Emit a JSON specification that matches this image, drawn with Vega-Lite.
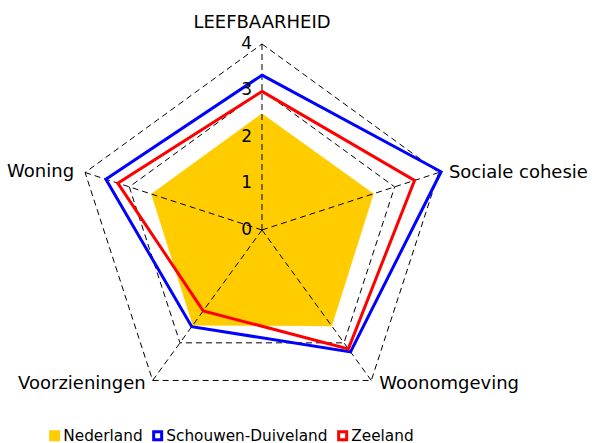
{
  "$schema": "https://vega.github.io/schema/vega-lite/v6.json",
  "width": 592,
  "height": 443,
  "autosize": {"type": "none"},
  "padding": 0,
  "config": {
    "view": {"stroke": null},
    "font": "DejaVu Sans",
    "legend": {
      "orient": "none",
      "legendX": 47,
      "legendY": 428,
      "direction": "horizontal",
      "labelFont": "DejaVu Sans",
      "labelFontSize": 15.3,
      "labelColor": "#000000",
      "labelLimit": 400,
      "symbolType": "square",
      "symbolSize": 64,
      "symbolStrokeWidth": 3,
      "labelOffset": 1,
      "columnPadding": 4
    }
  },
  "datasets": {
    "series": [
      {"series": "Nederland", "aspect": "LEEFBAARHEID", "value": 2.5},
      {"series": "Nederland", "aspect": "Sociale cohesie", "value": 2.52},
      {"series": "Nederland", "aspect": "Woonomgeving", "value": 2.55},
      {"series": "Nederland", "aspect": "Voorzieningen", "value": 2.53},
      {"series": "Nederland", "aspect": "Woning", "value": 2.5},
      {"series": "Schouwen-Duiveland", "aspect": "LEEFBAARHEID", "value": 3.33},
      {"series": "Schouwen-Duiveland", "aspect": "Sociale cohesie", "value": 4.05},
      {"series": "Schouwen-Duiveland", "aspect": "Woonomgeving", "value": 3.24},
      {"series": "Schouwen-Duiveland", "aspect": "Voorzieningen", "value": 2.57},
      {"series": "Schouwen-Duiveland", "aspect": "Woning", "value": 3.53},
      {"series": "Zeeland", "aspect": "LEEFBAARHEID", "value": 2.98},
      {"series": "Zeeland", "aspect": "Sociale cohesie", "value": 3.45},
      {"series": "Zeeland", "aspect": "Woonomgeving", "value": 3.16},
      {"series": "Zeeland", "aspect": "Voorzieningen", "value": 2.15},
      {"series": "Zeeland", "aspect": "Woning", "value": 3.26}
    ],
    "grid": [
      {"level": 1, "aspect": "LEEFBAARHEID"},
      {"level": 1, "aspect": "Sociale cohesie"},
      {"level": 1, "aspect": "Woonomgeving"},
      {"level": 1, "aspect": "Voorzieningen"},
      {"level": 1, "aspect": "Woning"},
      {"level": 2, "aspect": "LEEFBAARHEID"},
      {"level": 2, "aspect": "Sociale cohesie"},
      {"level": 2, "aspect": "Woonomgeving"},
      {"level": 2, "aspect": "Voorzieningen"},
      {"level": 2, "aspect": "Woning"},
      {"level": 3, "aspect": "LEEFBAARHEID"},
      {"level": 3, "aspect": "Sociale cohesie"},
      {"level": 3, "aspect": "Woonomgeving"},
      {"level": 3, "aspect": "Voorzieningen"},
      {"level": 3, "aspect": "Woning"},
      {"level": 4, "aspect": "LEEFBAARHEID"},
      {"level": 4, "aspect": "Sociale cohesie"},
      {"level": 4, "aspect": "Woonomgeving"},
      {"level": 4, "aspect": "Voorzieningen"},
      {"level": 4, "aspect": "Woning"}
    ],
    "ticks": [
      {"label": "0", "v": 0},
      {"label": "1", "v": 1},
      {"label": "2", "v": 2},
      {"label": "3", "v": 3},
      {"label": "4", "v": 4}
    ]
  },
  "layer": [
    {
      "data": {"name": "grid"},
      "transform": [
        {"calculate": "indexof(['LEEFBAARHEID','Sociale cohesie','Woonomgeving','Voorzieningen','Woning'], datum.aspect)", "as": "idx"},
        {"calculate": "datum.level * sin(datum.idx * 2 * PI / 5)", "as": "x"},
        {"calculate": "datum.level * cos(datum.idx * 2 * PI / 5)", "as": "y"}
      ],
      "mark": {"type": "line", "interpolate": "linear-closed", "stroke": "#000000", "strokeWidth": 1, "strokeDash": [6, 4]},
      "encoding": {
        "x": {"field": "x", "type": "quantitative", "scale": {"domain": [-5.634, 7.097], "nice": false, "zero": false}, "axis": null},
        "y": {"field": "y", "type": "quantitative", "scale": {"domain": [-4.581, 4.946], "nice": false, "zero": false}, "axis": null},
        "detail": {"field": "level", "type": "nominal"},
        "order": {"field": "idx", "type": "quantitative"}
      }
    },
    {
      "data": {"name": "series"},
      "transform": [
        {"filter": "datum.series === 'Nederland'"},
        {"calculate": "indexof(['LEEFBAARHEID','Sociale cohesie','Woonomgeving','Voorzieningen','Woning'], datum.aspect)", "as": "idx"},
        {"calculate": "datum.value * sin(datum.idx * 2 * PI / 5)", "as": "x"},
        {"calculate": "datum.value * cos(datum.idx * 2 * PI / 5)", "as": "y"}
      ],
      "mark": {"type": "line", "interpolate": "linear-closed", "fill": "#ffcc00", "stroke": "#ffcc00", "strokeWidth": 0.5},
      "encoding": {
        "x": {"field": "x", "type": "quantitative"},
        "y": {"field": "y", "type": "quantitative"},
        "order": {"field": "idx", "type": "quantitative"}
      }
    },
    {
      "data": {"name": "grid"},
      "transform": [
        {"filter": "datum.level === 4"},
        {"calculate": "indexof(['LEEFBAARHEID','Sociale cohesie','Woonomgeving','Voorzieningen','Woning'], datum.aspect)", "as": "idx"},
        {"calculate": "datum.level * sin(datum.idx * 2 * PI / 5)", "as": "x"},
        {"calculate": "datum.level * cos(datum.idx * 2 * PI / 5)", "as": "y"},
        {"calculate": "0", "as": "x0"},
        {"calculate": "0", "as": "y0"}
      ],
      "mark": {"type": "rule", "stroke": "#000000", "strokeWidth": 1, "strokeDash": [6, 4]},
      "encoding": {
        "x": {"field": "x0", "type": "quantitative"},
        "y": {"field": "y0", "type": "quantitative"},
        "x2": {"field": "x"},
        "y2": {"field": "y"}
      }
    },
    {
      "data": {"name": "series"},
      "transform": [
        {"filter": "datum.series !== 'Nederland'"},
        {"calculate": "indexof(['LEEFBAARHEID','Sociale cohesie','Woonomgeving','Voorzieningen','Woning'], datum.aspect)", "as": "idx"},
        {"calculate": "datum.value * sin(datum.idx * 2 * PI / 5)", "as": "x"},
        {"calculate": "datum.value * cos(datum.idx * 2 * PI / 5)", "as": "y"}
      ],
      "mark": {"type": "line", "interpolate": "linear-closed", "strokeWidth": 3},
      "encoding": {
        "x": {"field": "x", "type": "quantitative"},
        "y": {"field": "y", "type": "quantitative"},
        "order": {"field": "idx", "type": "quantitative"},
        "color": {
          "field": "series",
          "type": "nominal",
          "scale": {"domain": ["Nederland", "Schouwen-Duiveland", "Zeeland"], "range": ["#ffcc00", "#0000ff", "#ff0000"]},
          "legend": {
            "title": null,
            "encode": {
              "symbols": {
                "update": {
                  "fill": {"signal": "datum.value === 'Nederland' ? '#ffcc00' : '#ffffff'"},
                  "fillOpacity": {"value": 1},
                  "strokeWidth": {"value": 3},
                  "shape": {"value": "square"}
                }
              }
            }
          }
        }
      }
    },
    {
      "data": {"name": "ticks"},
      "transform": [
        {"calculate": "0", "as": "x0"}
      ],
      "mark": {"type": "text", "align": "right", "baseline": "middle", "dx": -10, "fontSize": 17, "font": "DejaVu Sans", "color": "#000000"},
      "encoding": {
        "x": {"field": "x0", "type": "quantitative"},
        "y": {"field": "v", "type": "quantitative"},
        "text": {"field": "label", "type": "nominal"}
      }
    },
    {
      "data": {"name": "grid"},
      "transform": [
        {"filter": "datum.level === 4 && datum.aspect === 'LEEFBAARHEID'"},
        {"calculate": "indexof(['LEEFBAARHEID','Sociale cohesie','Woonomgeving','Voorzieningen','Woning'], datum.aspect)", "as": "idx"},
        {"calculate": "datum.level * sin(datum.idx * 2 * PI / 5)", "as": "x"},
        {"calculate": "datum.level * cos(datum.idx * 2 * PI / 5)", "as": "y"}
      ],
      "mark": {"type": "text", "align": "center", "baseline": "middle", "dy": -21, "fontSize": 18, "font": "DejaVu Sans", "color": "#000000"},
      "encoding": {
        "x": {"field": "x", "type": "quantitative"},
        "y": {"field": "y", "type": "quantitative"},
        "text": {"field": "aspect", "type": "nominal"}
      }
    },
    {
      "data": {"name": "grid"},
      "transform": [
        {"filter": "datum.level === 4 && datum.aspect === 'Sociale cohesie'"},
        {"calculate": "indexof(['LEEFBAARHEID','Sociale cohesie','Woonomgeving','Voorzieningen','Woning'], datum.aspect)", "as": "idx"},
        {"calculate": "datum.level * sin(datum.idx * 2 * PI / 5)", "as": "x"},
        {"calculate": "datum.level * cos(datum.idx * 2 * PI / 5)", "as": "y"}
      ],
      "mark": {"type": "text", "align": "left", "baseline": "middle", "dx": 10, "dy": 0, "fontSize": 18, "font": "DejaVu Sans", "color": "#000000"},
      "encoding": {
        "x": {"field": "x", "type": "quantitative"},
        "y": {"field": "y", "type": "quantitative"},
        "text": {"field": "aspect", "type": "nominal"}
      }
    },
    {
      "data": {"name": "grid"},
      "transform": [
        {"filter": "datum.level === 4 && datum.aspect === 'Woonomgeving'"},
        {"calculate": "indexof(['LEEFBAARHEID','Sociale cohesie','Woonomgeving','Voorzieningen','Woning'], datum.aspect)", "as": "idx"},
        {"calculate": "datum.level * sin(datum.idx * 2 * PI / 5)", "as": "x"},
        {"calculate": "datum.level * cos(datum.idx * 2 * PI / 5)", "as": "y"}
      ],
      "mark": {"type": "text", "align": "left", "baseline": "middle", "dx": 8, "dy": 4, "fontSize": 18, "font": "DejaVu Sans", "color": "#000000"},
      "encoding": {
        "x": {"field": "x", "type": "quantitative"},
        "y": {"field": "y", "type": "quantitative"},
        "text": {"field": "aspect", "type": "nominal"}
      }
    },
    {
      "data": {"name": "grid"},
      "transform": [
        {"filter": "datum.level === 4 && datum.aspect === 'Voorzieningen'"},
        {"calculate": "indexof(['LEEFBAARHEID','Sociale cohesie','Woonomgeving','Voorzieningen','Woning'], datum.aspect)", "as": "idx"},
        {"calculate": "datum.level * sin(datum.idx * 2 * PI / 5)", "as": "x"},
        {"calculate": "datum.level * cos(datum.idx * 2 * PI / 5)", "as": "y"}
      ],
      "mark": {"type": "text", "align": "right", "baseline": "middle", "dx": -7, "dy": 4, "fontSize": 18, "font": "DejaVu Sans", "color": "#000000"},
      "encoding": {
        "x": {"field": "x", "type": "quantitative"},
        "y": {"field": "y", "type": "quantitative"},
        "text": {"field": "aspect", "type": "nominal"}
      }
    },
    {
      "data": {"name": "grid"},
      "transform": [
        {"filter": "datum.level === 4 && datum.aspect === 'Woning'"},
        {"calculate": "indexof(['LEEFBAARHEID','Sociale cohesie','Woonomgeving','Voorzieningen','Woning'], datum.aspect)", "as": "idx"},
        {"calculate": "datum.level * sin(datum.idx * 2 * PI / 5)", "as": "x"},
        {"calculate": "datum.level * cos(datum.idx * 2 * PI / 5)", "as": "y"}
      ],
      "mark": {"type": "text", "align": "right", "baseline": "middle", "dx": -11, "dy": -1, "fontSize": 18, "font": "DejaVu Sans", "color": "#000000"},
      "encoding": {
        "x": {"field": "x", "type": "quantitative"},
        "y": {"field": "y", "type": "quantitative"},
        "text": {"field": "aspect", "type": "nominal"}
      }
    }
  ]
}
